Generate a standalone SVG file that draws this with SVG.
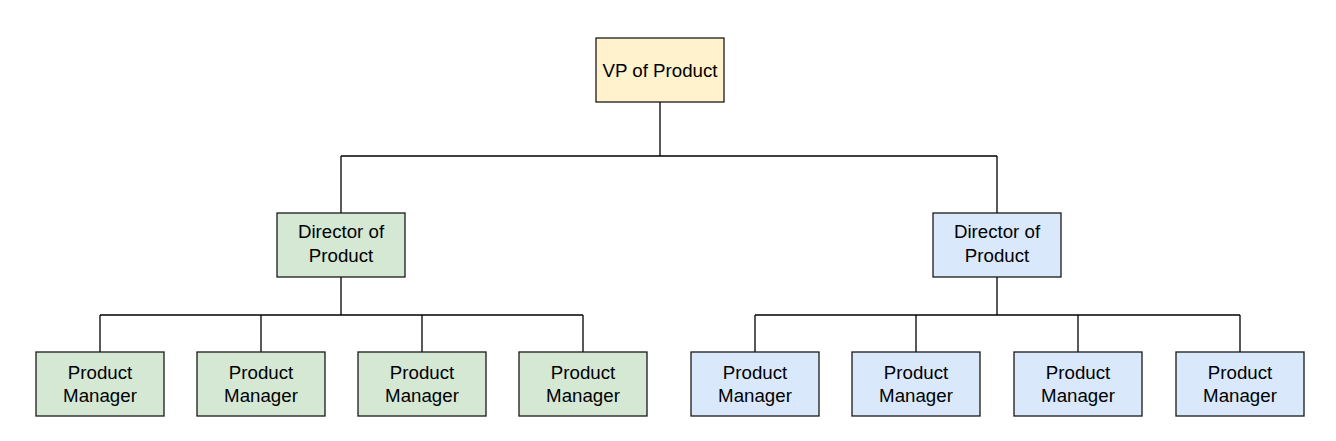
<svg xmlns="http://www.w3.org/2000/svg" width="1336" height="441" viewBox="0 0 1336 441">
<style>
.box{stroke:#1a1a1a;stroke-width:1.3}
.vp{fill:#fff2cc}
.g{fill:#d5e8d4}
.b{fill:#dae8fc}
.t{font-family:"Liberation Sans",Arial,sans-serif;font-size:18.7px;fill:#000;text-anchor:middle}
.c{fill:none;stroke:#000;stroke-width:1.3}
</style>
<rect width="1336" height="441" fill="#fff"/>
<g id="connectors">
<path class="c" d="M660 102V156M341 156H997M341 156V213M997 156V213"/>
<path class="c" d="M341 277V315M100 315H583M100 315V352M261 315V352M422 315V352M583 315V352"/>
<path class="c" d="M997 277V315M755 315H1240M755 315V352M916 315V352M1078 315V352M1240 315V352"/>
</g>
<g id="vp"><rect class="box vp" x="596" y="38" width="128" height="64"/><text class="t" x="660" y="77">VP of Product</text></g>
<g id="dir-left"><rect class="box g" x="277" y="213" width="128" height="64"/><text class="t" x="341" y="238">Director of</text><text class="t" x="341" y="262">Product</text></g>
<g id="dir-right"><rect class="box b" x="933" y="213" width="128" height="64"/><text class="t" x="997" y="238">Director of</text><text class="t" x="997" y="262">Product</text></g>
<g id="pm1"><rect class="box g" x="36" y="352" width="128" height="64"/><text class="t" x="100" y="379">Product</text><text class="t" x="100" y="402">Manager</text></g>
<g id="pm2"><rect class="box g" x="197" y="352" width="128" height="64"/><text class="t" x="261" y="379">Product</text><text class="t" x="261" y="402">Manager</text></g>
<g id="pm3"><rect class="box g" x="358" y="352" width="128" height="64"/><text class="t" x="422" y="379">Product</text><text class="t" x="422" y="402">Manager</text></g>
<g id="pm4"><rect class="box g" x="519" y="352" width="128" height="64"/><text class="t" x="583" y="379">Product</text><text class="t" x="583" y="402">Manager</text></g>
<g id="pm5"><rect class="box b" x="691" y="352" width="128" height="64"/><text class="t" x="755" y="379">Product</text><text class="t" x="755" y="402">Manager</text></g>
<g id="pm6"><rect class="box b" x="852" y="352" width="128" height="64"/><text class="t" x="916" y="379">Product</text><text class="t" x="916" y="402">Manager</text></g>
<g id="pm7"><rect class="box b" x="1014" y="352" width="128" height="64"/><text class="t" x="1078" y="379">Product</text><text class="t" x="1078" y="402">Manager</text></g>
<g id="pm8"><rect class="box b" x="1176" y="352" width="128" height="64"/><text class="t" x="1240" y="379">Product</text><text class="t" x="1240" y="402">Manager</text></g>
</svg>
